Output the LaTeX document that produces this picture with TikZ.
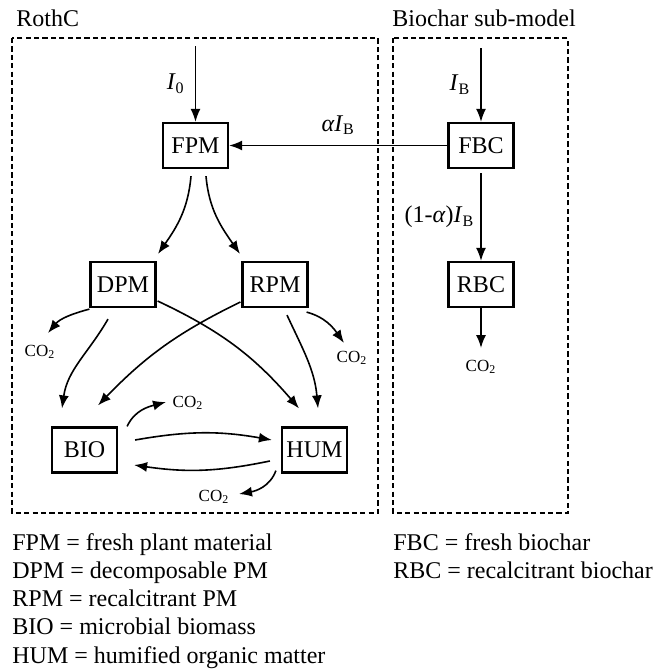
\documentclass[tikz,border=0pt]{standalone}
\usepackage{fontspec}
\setmainfont{Liberation Serif}
\usetikzlibrary{arrows.meta,calc}

\begin{document}
\begin{tikzpicture}[x=0.5pt, y=0.5pt,
    pool/.style={draw, line width=1.1pt, minimum width=32.5pt, minimum height=22.5pt,
      inner sep=0pt, font=\fontsize{12}{14}\selectfont},
    flow/.style={-{Latex[length=6.5pt,width=5pt]}, line width=0.8pt},
    submodel/.style={draw, dash pattern=on 2.6pt off 1.6pt, line width=1pt},
    lbl/.style={font=\fontsize{12}{14}\selectfont, inner sep=0pt},
    gas/.style={font=\fontsize{8.5}{10}\selectfont, inner sep=0pt}]
    \useasboundingbox (0,0) rectangle (654,-671);

    \draw[submodel] (12,-38) rectangle (378,-513);
    \draw[submodel] (393,-38) rectangle (568,-513);
    \node[lbl, anchor=west] (rothc) at (16,-18) {RothC};
    \node[lbl, anchor=west] (biochar) at (392,-18) {Biochar sub-model};

          \node[pool] (FPM) at (195.5,-145.5) {FPM};
          \node[pool] (FBC) at (481,-145.5) {FBC};
          \node[pool] (RBC) at (481,-284.5) {RBC};
          \node[pool] (DPM) at (123,-284.5) {DPM};
          \node[pool] (RPM) at (275,-284.5) {RPM};
          \node[pool] (BIO) at (84.5,-450) {BIO};
          \node[pool] (HUM) at (314.5,-450) {HUM};

          \coordinate (inP) at (195.5,-46);
          \coordinate (inB) at (481,-48);

          \node[gas] (co2d) at (40,-352) {CO\textsubscript{2}};
          \node[gas] (co2r) at (352,-358) {CO\textsubscript{2}};
          \node[gas] (co2b) at (188,-403) {CO\textsubscript{2}};
          \node[gas] (co2h) at (214,-497) {CO\textsubscript{2}};
          \node[gas] (co2c) at (481,-367) {CO\textsubscript{2}};

    \draw[flow] (inP) -- node[lbl, left=5pt] {\textit{I}\textsubscript{0}} (FPM);
    \draw[flow] (inB) -- node[lbl, left=5pt] {\textit{I}\textsubscript{B}} (FBC);
    \draw[flow] (FBC) -- node[lbl, above=5pt] {\textit{αI}\textsubscript{B}} (FPM);
    \draw[flow] ($(FBC.south)+(0,-4)$) -- node[lbl, left=3pt] {(1-\textit{α})\textit{I}\textsubscript{B}} (RBC);
    \draw[flow] (RBC.south) -- ($(co2c)+(0,19)$);

    \draw[flow] ($(FPM.south)+(-4.5,-7)$) to[out=-95, in=55] ($(DPM.north)+(35,7)$);
    \draw[flow] ($(FPM.south)+(10.5,-7)$) to[out=-85, in=125] ($(RPM.north)+(-35,7)$);

    \draw[flow] ($(DPM.south)+(-15,-11)$) to[out=-120, in=82] ($(BIO.north)+(-22.5,18)$);
    \draw[flow] ($(DPM.east)+(1,-16.5)$) to[bend left=12] ($(HUM.north)+(-15.5,18)$);
    \draw[flow] ($(RPM.west)+(-1,-17.5)$) to[bend right=10] ($(BIO.north)+(13.5,21)$);
    \draw[flow] ($(RPM.south)+(12,-7)$) to[out=-65, in=95] ($(HUM.north)+(3.5,18)$);

    \draw[flow] ($(DPM.south west)+(0,-1)$) to[out=195, in=50] ($(co2d)+(8,19)$);
    \draw[flow] ($(RPM.south east)+(-2,-4)$) to[out=-15, in=125] ($(co2r)+(-8,15)$);

    \draw[flow] ($(BIO.east)+(17,10)$) to[bend left=10] ($(HUM.west)+(-9,10)$);
    \draw[flow] ($(HUM.west)+(-11,-11)$) to[bend left=10] ($(BIO.east)+(16,-15)$);
    \draw[flow] ($(BIO.north east)+(9,0)$) to[out=65, in=195] ($(co2b)+(-22,1)$);
    \draw[flow] ($(HUM.south west)+(-5,3)$) to[out=-110, in=10] ($(co2h)+(25,3)$);

    \node[lbl, anchor=north west, align=left, font=\fontsize{12}{14.1}\selectfont]
      (legendA) at (12,-533)
      {FPM = fresh plant material\\DPM = decomposable PM\\RPM = recalcitrant PM\\BIO = microbial biomass\\HUM = humified organic matter};
    \node[lbl, anchor=north west, align=left, font=\fontsize{12}{14.1}\selectfont]
      (legendB) at (393,-533)
      {FBC = fresh biochar\\RBC = recalcitrant biochar};
\end{tikzpicture}
\end{document}
